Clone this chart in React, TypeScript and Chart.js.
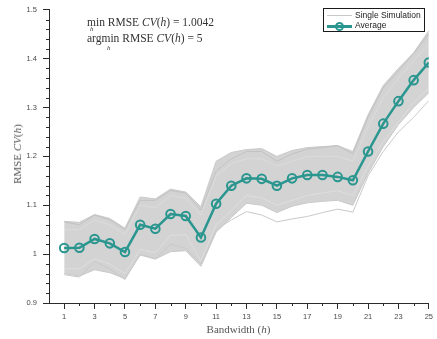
import React, { useEffect, useRef } from 'react';
import { Chart, registerables } from 'chart.js';

Chart.register(...registerables);

// ---------- data ----------
const bandwidth = [1, 2, 3, 4, 5, 6, 7, 8, 9, 10, 11, 12, 13, 14, 15, 16, 17, 18, 19, 20, 21, 22, 23, 24, 25];

const averageRmse = [1.0125, 1.013, 1.031, 1.022, 1.0042, 1.06, 1.052, 1.082, 1.078, 1.034, 1.103, 1.14, 1.155, 1.154, 1.14, 1.155, 1.162, 1.162, 1.158, 1.151, 1.21, 1.267, 1.313, 1.356, 1.392];

// upper and lower edges of the dense band of single simulations
const simUpper = [1.067, 1.065, 1.081, 1.073, 1.053, 1.117, 1.113, 1.133, 1.127, 1.097, 1.19, 1.208, 1.214, 1.216, 1.2, 1.212, 1.218, 1.22, 1.222, 1.21, 1.285, 1.345, 1.38, 1.412, 1.457];
const simLower = [0.96, 0.955, 0.968, 0.962, 0.95, 0.998, 0.99, 1.005, 1.007, 0.975, 1.045, 1.075, 1.104, 1.1, 1.085, 1.098, 1.105, 1.108, 1.11, 1.1, 1.165, 1.22, 1.265, 1.3, 1.33];

// a few individual simulation runs
const simRunA = [0.958, 0.953, 0.985, 0.97, 0.948, 1.0, 0.99, 1.02, 1.012, 0.98, 1.05, 1.07, 1.087, 1.08, 1.066, 1.072, 1.077, 1.085, 1.092, 1.086, 1.16, 1.21, 1.25, 1.28, 1.314];
const simRunB = [1.066, 1.06, 1.08, 1.07, 1.05, 1.11, 1.11, 1.13, 1.125, 1.09, 1.17, 1.195, 1.21, 1.21, 1.19, 1.205, 1.215, 1.218, 1.222, 1.205, 1.28, 1.34, 1.375, 1.41, 1.45];
const simRunC = [0.97, 0.97, 0.99, 0.98, 0.96, 1.01, 1.003, 1.038, 1.04, 0.985, 1.06, 1.09, 1.12, 1.115, 1.1, 1.11, 1.12, 1.125, 1.13, 1.12, 1.18, 1.23, 1.27, 1.31, 1.34];
const simRunD = [1.05, 1.05, 1.07, 1.06, 1.04, 1.1, 1.095, 1.12, 1.115, 1.08, 1.16, 1.185, 1.195, 1.195, 1.18, 1.19, 1.2, 1.2, 1.2, 1.19, 1.26, 1.32, 1.36, 1.395, 1.43];

const xMajorTicks = [1, 3, 5, 7, 9, 11, 13, 15, 17, 19, 21, 23, 25];
const xMinorTicks = [2, 4, 6, 8, 10, 12, 14, 16, 18, 20, 22, 24];
const yMajorTicks = [0.9, 1, 1.1, 1.2, 1.3, 1.4, 1.5];
const yMinorTicks = [0.92, 0.94, 0.96, 0.98, 1.02, 1.04, 1.06, 1.08, 1.12, 1.14, 1.16, 1.18, 1.22, 1.24, 1.26, 1.28, 1.32, 1.34, 1.36, 1.38, 1.42, 1.44, 1.46, 1.48];

// ---------- styles ----------
const AXIS_COLOR = '#2b2b2b';
const TICK_COLOR = '#4a4a4a';
const TEAL = '#2a968f';
const SIM_LINE = '#c9c9c9';
const SIM_FILL = '#d3d3d3';
const SANS = '"Liberation Sans", Arial, Helvetica, sans-serif';
const SERIF = '"Liberation Serif", "DejaVu Serif", "Times New Roman", serif';

const pts = (ys: number[]) => bandwidth.map((x, i) => ({ x, y: ys[i] }));

const minorTickPlugin = {
  id: 'minorTicks',
  afterDraw(chart: any) {
    const { ctx, chartArea, scales } = chart;
    ctx.save();
    ctx.strokeStyle = AXIS_COLOR;
    ctx.lineWidth = 1;
    ctx.beginPath();
    xMinorTicks.forEach((v) => {
      const px = Math.round(scales.x.getPixelForValue(v)) + 0.5;
      ctx.moveTo(px, chartArea.bottom);
      ctx.lineTo(px, chartArea.bottom + 3);
    });
    yMinorTicks.forEach((v) => {
      const py = Math.round(scales.y.getPixelForValue(v)) + 0.5;
      ctx.moveTo(chartArea.left - 3, py);
      ctx.lineTo(chartArea.left, py);
    });
    ctx.stroke();
    ctx.restore();
  },
};

function RmseChart() {
  const ref = useRef<HTMLCanvasElement | null>(null);

  useEffect(() => {
    if (!ref.current) return;
    const simStyle = {
      borderColor: SIM_LINE,
      borderWidth: 1,
      pointRadius: 0,
      pointHoverRadius: 0,
      tension: 0,
      fill: false,
    };
    const chart = new Chart(ref.current, {
      type: 'line',
      data: {
        datasets: [
          { ...simStyle, label: 'Single Simulation', data: pts(simUpper), order: 5 },
          { ...simStyle, label: 'lower', data: pts(simLower), fill: '-1', backgroundColor: SIM_FILL, order: 5 },
          { ...simStyle, label: 'runA', data: pts(simRunA), order: 4 },
          { ...simStyle, label: 'runB', data: pts(simRunB), order: 4, borderColor: '#c2c2c2' },
          { ...simStyle, label: 'runC', data: pts(simRunC), order: 4, borderColor: '#dedede' },
          { ...simStyle, label: 'runD', data: pts(simRunD), order: 4, borderColor: '#dcdcdc' },
          {
            label: 'Average',
            data: pts(averageRmse),
            borderColor: TEAL,
            borderWidth: 2.5,
            pointRadius: 4.3,
            pointBorderWidth: 2,
            pointBorderColor: TEAL,
            pointBackgroundColor: 'rgba(0,0,0,0)',
            pointStyle: 'circle',
            tension: 0,
            fill: false,
            order: 0,
          },
        ],
      },
      options: {
        responsive: false,
        maintainAspectRatio: false,
        animation: false,
        devicePixelRatio: 1,
        events: [],
        layout: { padding: { top: 4, right: 8, left: 0, bottom: 0 } },
        plugins: {
          legend: { display: false },
          tooltip: { enabled: false },
          title: { display: false },
        },
        scales: {
          x: {
            type: 'linear',
            min: 0,
            max: 25,
            afterBuildTicks: (s: any) => {
              s.ticks = xMajorTicks.map((v) => ({ value: v }));
            },
            afterFit: (s: any) => {
              s.height = 36;
            },
            grid: { drawOnChartArea: false, drawTicks: true, tickLength: 6, color: AXIS_COLOR, lineWidth: 1 },
            border: { display: true, color: AXIS_COLOR, width: 1 },
            ticks: {
              autoSkip: false,
              maxRotation: 0,
              padding: 4,
              color: TICK_COLOR,
              font: { family: SANS, size: 7.5, lineHeight: 1 },
              callback: (v: any) => String(v),
            },
          },
          y: {
            type: 'linear',
            min: 0.9,
            max: 1.5,
            afterBuildTicks: (s: any) => {
              s.ticks = yMajorTicks.map((v) => ({ value: v }));
            },
            afterFit: (s: any) => {
              s.width = 49;
            },
            grid: { drawOnChartArea: false, drawTicks: true, tickLength: 6, color: AXIS_COLOR, lineWidth: 1 },
            border: { display: true, color: AXIS_COLOR, width: 1 },
            ticks: {
              padding: 6,
              color: TICK_COLOR,
              font: { family: SANS, size: 7.5, lineHeight: 1 },
              callback: (v: any) => String(v),
            },
          },
        },
      },
      plugins: [minorTickPlugin],
    } as any);
    return () => chart.destroy();
  }, []);

  return <canvas ref={ref} width={437} height={339} style={{ display: 'block', width: 437, height: 339 }} />;
}

export default function App() {
  const serifText: React.CSSProperties = {
    position: 'absolute',
    fontFamily: SERIF,
    fontSize: 11.5,
    lineHeight: '12px',
    color: '#333',
    whiteSpace: 'nowrap',
  };
  const sub: React.CSSProperties = {
    position: 'absolute',
    fontFamily: SERIF,
    fontStyle: 'italic',
    fontSize: 7,
    lineHeight: '7px',
    color: '#333',
  };
  return (
    <div style={{ position: 'absolute', left: 0, top: 0, width: 437, height: 339, background: '#fff', overflow: 'hidden' }}>
      <RmseChart />

      {/* annotation */}
      <div style={{ ...serifText, left: 87, top: 16 }}>
        min RMSE <i>CV</i>(<i>h</i>) = 1.0042
      </div>
      <div style={{ ...sub, left: 90, top: 25.5 }}>h</div>
      <div style={{ ...serifText, left: 87, top: 32 }}>
        argmin RMSE <i>CV</i>(<i>h</i>) = 5
      </div>
      <div style={{ ...sub, left: 107, top: 44.5 }}>h</div>

      {/* axis titles */}
      <div style={{ ...serifText, fontSize: 11, color: '#555', left: 0, width: 437, top: 323, textAlign: 'center', paddingLeft: 40, boxSizing: 'border-box' }}>
        Bandwidth (<i>h</i>)
      </div>
      <div
        style={{
          ...serifText,
          fontSize: 11,
          color: '#555',
          left: 17,
          top: 153.5,
          transform: 'translate(-50%, -50%) rotate(-90deg)',
        }}
      >
        RMSE <i>CV</i>(<i>h</i>)
      </div>

      {/* legend */}
      <div
        style={{
          position: 'absolute',
          left: 323,
          top: 8,
          width: 102,
          height: 24,
          boxSizing: 'border-box',
          border: '1px solid #1a1a1a',
          background: '#fff',
        }}
      >
        <div style={{ position: 'absolute', left: 3, top: 6, width: 25, height: 1, background: SIM_LINE }} />
        <div style={{ position: 'absolute', left: 3, top: 16, width: 25, height: 2.5, background: TEAL }} />
        <div
          style={{
            position: 'absolute',
            left: 11,
            top: 13,
            width: 9,
            height: 9,
            boxSizing: 'border-box',
            borderRadius: '50%',
            border: `2px solid ${TEAL}`,
          }}
        />
        <div style={{ position: 'absolute', left: 31, top: 1, fontFamily: SANS, fontSize: 8.5, lineHeight: '11px', color: '#222', whiteSpace: 'nowrap' }}>
          Single Simulation
        </div>
        <div style={{ position: 'absolute', left: 31, top: 11, fontFamily: SANS, fontSize: 8.5, lineHeight: '11px', color: '#222', whiteSpace: 'nowrap' }}>
          Average
        </div>
      </div>
    </div>
  );
}
